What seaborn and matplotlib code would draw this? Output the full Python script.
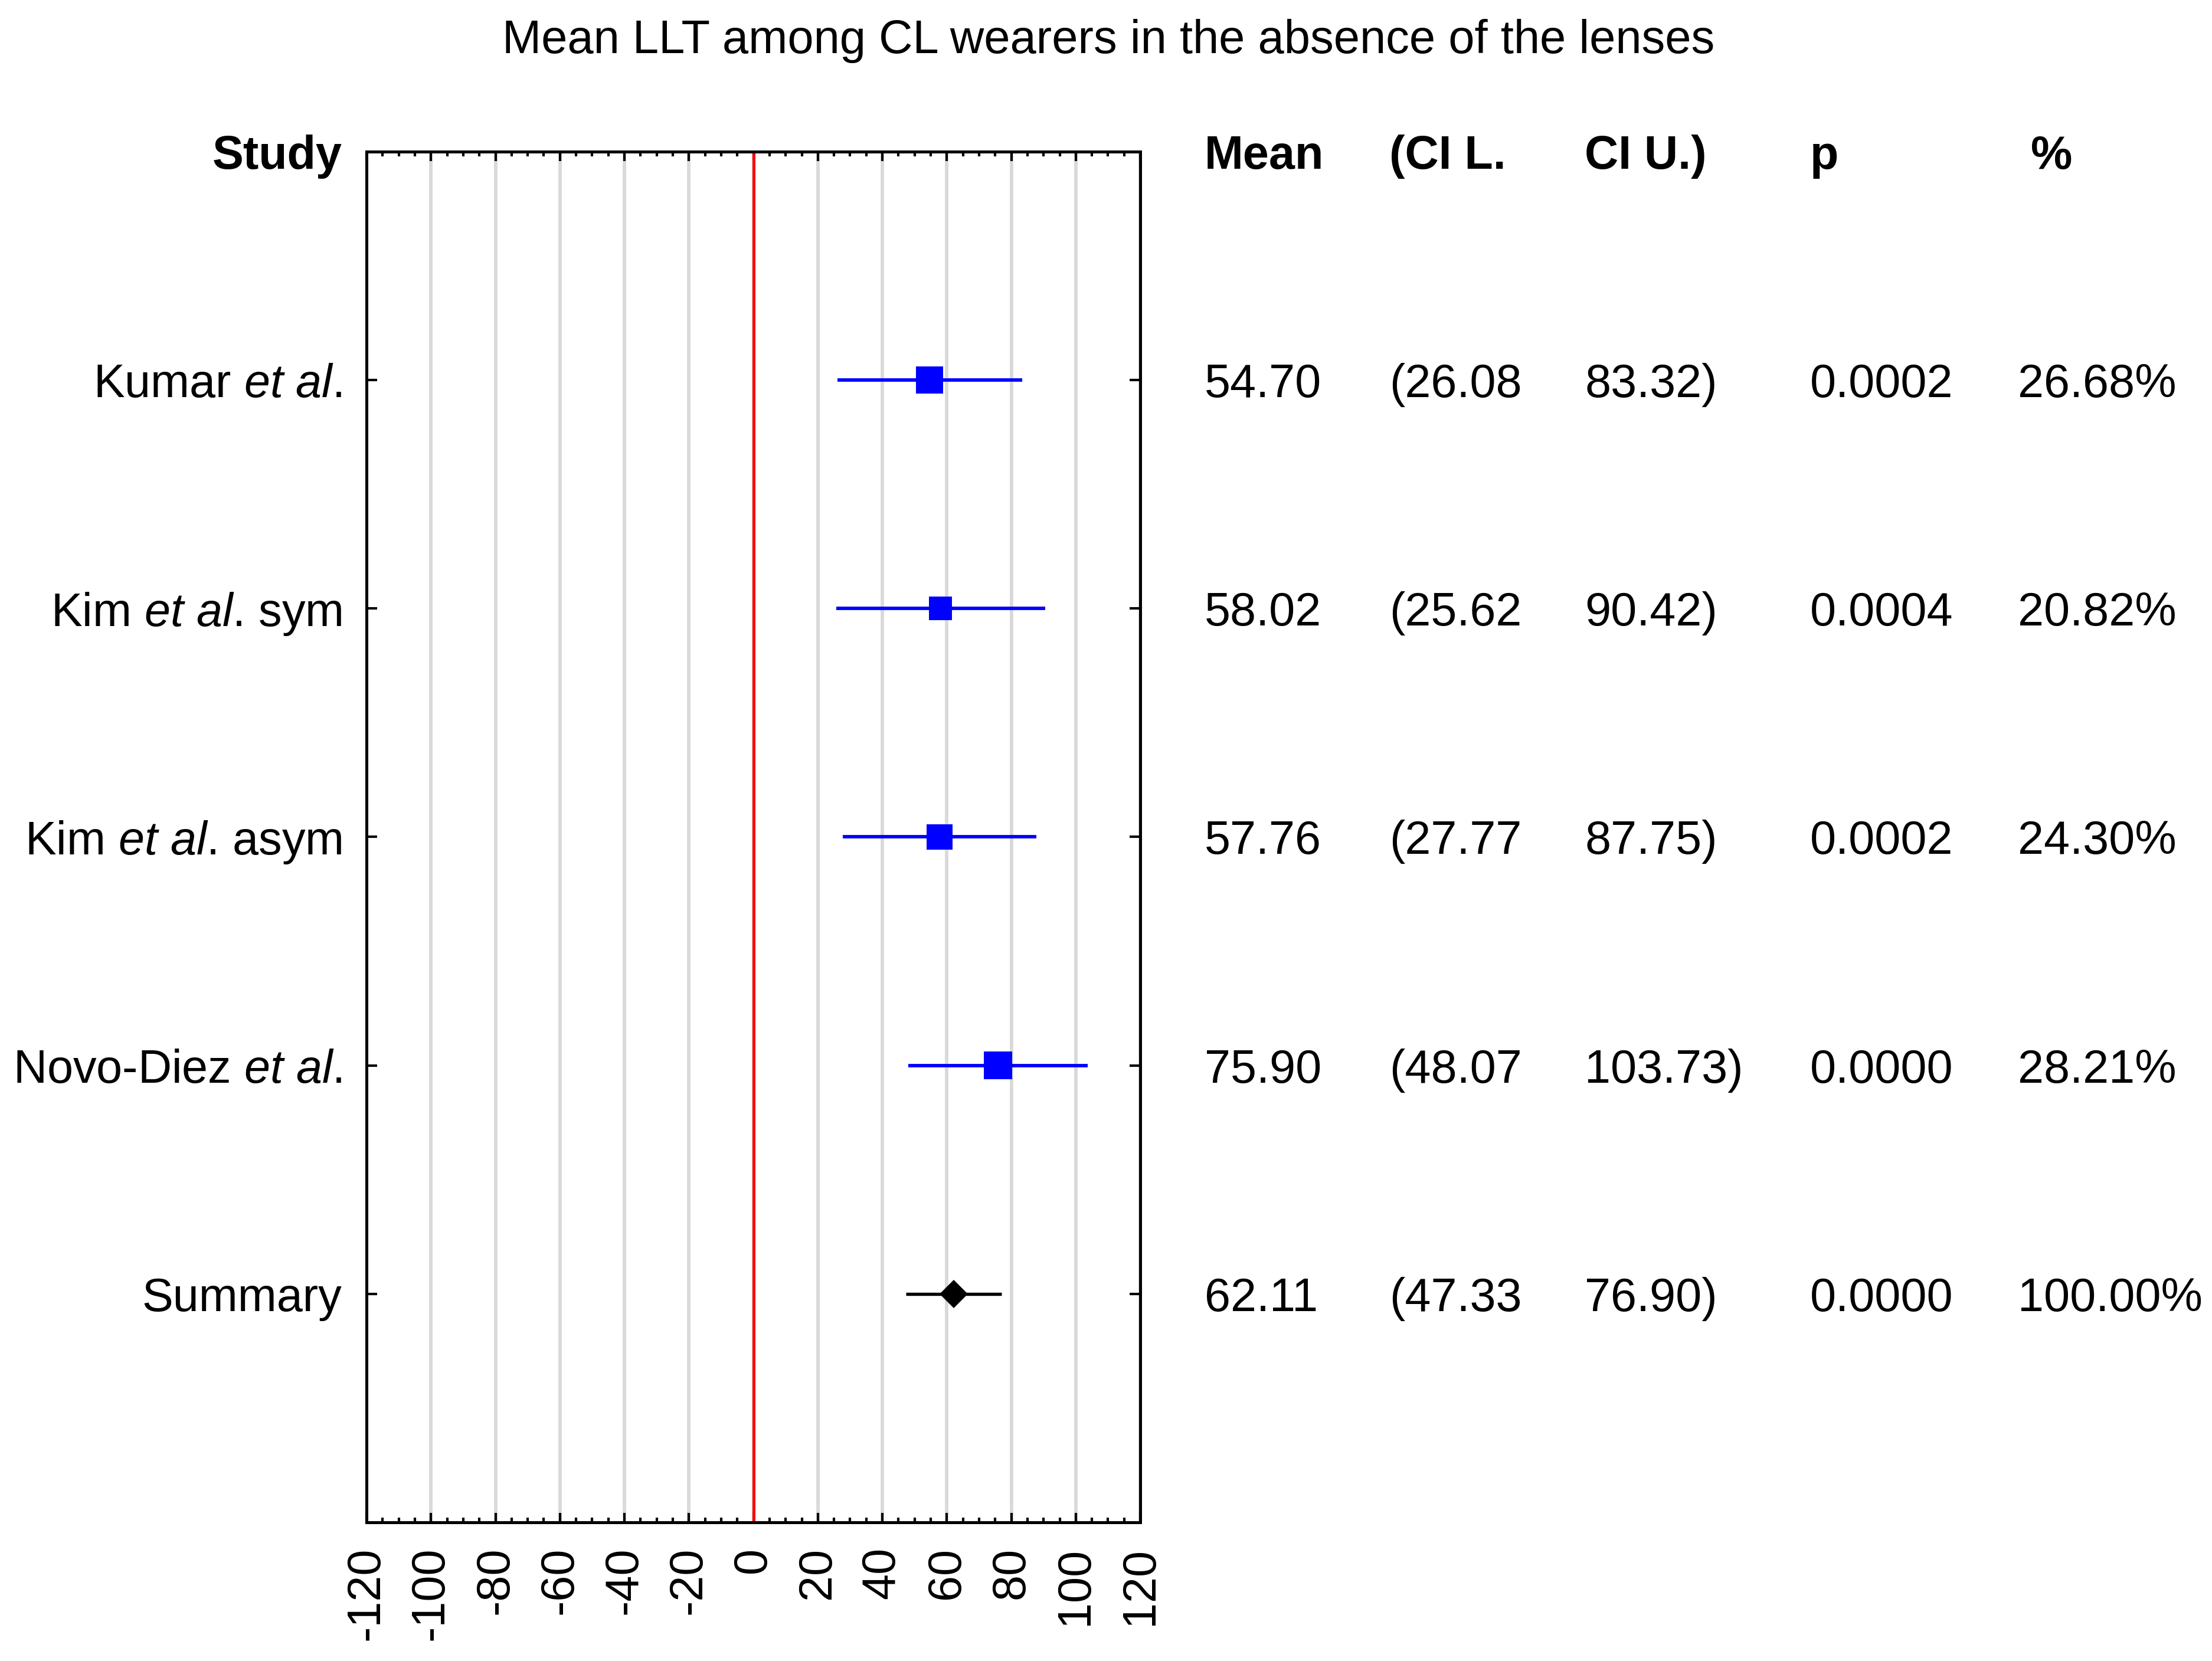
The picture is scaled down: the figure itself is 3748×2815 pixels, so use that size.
import matplotlib
matplotlib.use("Agg")
import matplotlib.pyplot as plt
import matplotlib.transforms as mtransforms
from matplotlib.ticker import MultipleLocator, FixedLocator
import seaborn as sns
import pandas as pd

# data
studies = ["Kumar $\\mathit{et\\ al}$.", "Kim $\\mathit{et\\ al}$. sym",
           "Kim $\\mathit{et\\ al}$. asym", "Novo-Diez $\\mathit{et\\ al}$.", "Summary"]
means = [54.70, 58.02, 57.76, 75.90, 62.11]
ci_low = [26.08, 25.62, 27.77, 48.07, 47.33]
ci_high = [83.32, 90.42, 87.75, 103.73, 76.90]
p_values = ["0.0002", "0.0004", "0.0002", "0.0000", "0.0000"]
weights = [26.68, 20.82, 24.30, 28.21, 100.00]
headers = ["Mean", "(CI L.", "CI U.)", "p", "%"]

sns.set_theme(style="white")
plt.rcParams['font.family'] = ['Liberation Sans', 'DejaVu Sans']
plt.rcParams['mathtext.fontset'] = 'custom'
plt.rcParams['mathtext.rm'] = 'Liberation Sans'
plt.rcParams['mathtext.it'] = 'Liberation Sans:italic'
plt.rcParams['axes.unicode_minus'] = False
for k in ['text.color', 'xtick.color', 'ytick.color', 'axes.labelcolor', 'axes.edgecolor']:
    plt.rcParams[k] = 'black'

FS = 19

rows = list(range(1, len(studies) + 1))
df = pd.DataFrame({"study": studies, "row": rows, "mean": means,
                   "lo": ci_low, "hi": ci_high, "w": weights})
ind = df.iloc[:-1]
summ = df.iloc[-1:]

fig = plt.figure(figsize=(3748 / 300, 2815 / 300), dpi=300)
ax = fig.add_axes([0.1657, 0.0835, 0.3498, 0.8252])

ax.set_xlim(-120, 120)
ax.set_ylim(6, 0)
ax.set_axisbelow(True)
ax.grid(axis='x', which='major', color='#d9d9d9', lw=1.4)
ax.axvline(0, color='red', lw=1.2, zorder=1.5)

# individual studies
ax.hlines(ind["row"], ind["lo"], ind["hi"], color='blue', lw=1.4, zorder=2)
sns.scatterplot(data=ind, x="mean", y="row", size="w", sizes=(92, 130),
                marker='s', color='blue', linewidth=0, legend=False, ax=ax, zorder=3)
# summary
ax.hlines(summ["row"], summ["lo"], summ["hi"], color='black', lw=1.3, zorder=2)
ax.plot(summ["mean"], summ["row"], marker='D', ms=7, color='black', ls='none', zorder=3)

ax.set_xlabel("")
ax.set_ylabel("")
for s in ax.spines.values():
    s.set_visible(True)
    s.set_color('black')
    s.set_linewidth(1.2)

ax.xaxis.set_major_locator(MultipleLocator(20))
ax.xaxis.set_minor_locator(MultipleLocator(5))
ax.tick_params(axis='x', which='both', direction='in', top=True, bottom=True,
               color='black', width=1.0, labelsize=FS, labelrotation=90, pad=10)
ax.tick_params(axis='x', which='major', length=3.8)
ax.tick_params(axis='x', which='minor', length=2.0)

ax.yaxis.set_major_locator(FixedLocator(rows))
ax.set_yticklabels(studies)
ax.tick_params(axis='y', which='major', direction='in', left=True, right=True,
               length=4.3, width=1.0, color='black', labelsize=FS, pad=10)

# headers and table columns
trans = mtransforms.blended_transform_factory(fig.transFigure, ax.transData)
fig.text(0.1545, 0, "Study", transform=trans, ha='right', va='center_baseline',
         fontsize=FS, fontweight='bold')
head_x = [0.5445, 0.6282, 0.7165, 0.8182, 0.918]
for hx, h in zip(head_x, headers):
    fig.text(hx, 0, h, transform=trans, ha='left', va='center_baseline',
             fontsize=FS, fontweight='bold')

col_x = [0.5445, 0.6282, 0.7165, 0.8182, 0.9122]
for r, m, lo, hi, p, w in zip(rows, means, ci_low, ci_high, p_values, weights):
    vals = [f"{m:.2f}", f"({lo:.2f}", f"{hi:.2f})", p, f"{w:.2f}%"]
    for cx, v in zip(col_x, vals):
        fig.text(cx, r, v, transform=trans, ha='left', va='center_baseline', fontsize=FS)

fig.text(0.501, 1 - 90 / 2815, "Mean LLT among CL wearers in the absence of the lenses",
         ha='center', va='baseline', fontsize=19.1)

fig.savefig("out.png", dpi=300)
